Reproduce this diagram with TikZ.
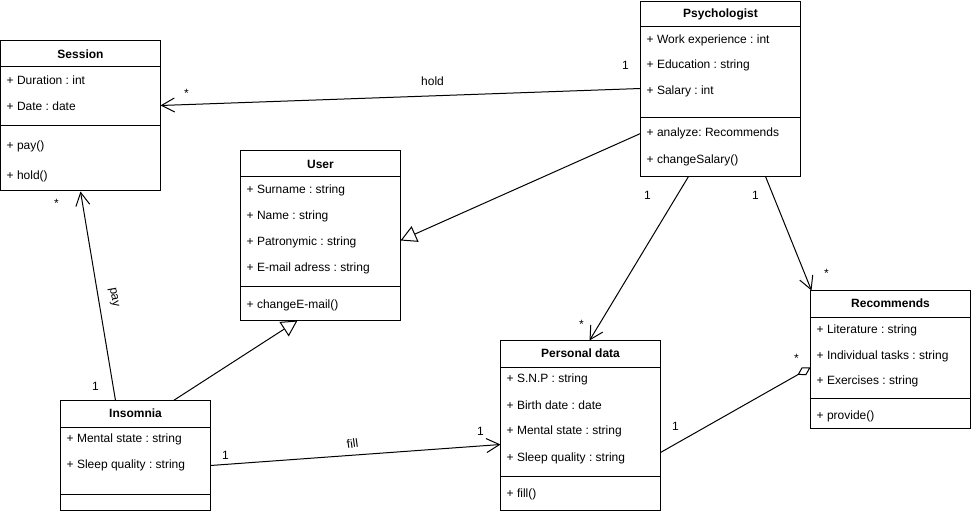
\documentclass[tikz,border=0pt]{standalone}
\usepackage{fontspec}
\setmainfont{Liberation Sans}
\frenchspacing
\usetikzlibrary{arrows.meta,calc}
\begin{document}
\begin{tikzpicture}[x=1pt,y=-1pt,
  box/.style={draw, line width=1pt, inner sep=0pt, outer sep=0pt, anchor=north west},
  ttl/.style={font=\bfseries\fontsize{12}{14}\selectfont, inner sep=0pt},
  attr/.style={font=\fontsize{12}{14}\selectfont, anchor=west, inner sep=0pt},
  lbl/.style={font=\fontsize{12}{14}\selectfont, inner sep=0pt},
  sepline/.style={line width=1pt},
  assoc/.style={line width=1pt, -{Straight Barb[length=13pt,width=14pt]}},
  gen/.style={line width=1pt, -{Triangle[open,length=16pt,width=17pt,fill=white]}},
  agg/.style={line width=1pt, -{Diamond[open,length=15pt,width=9pt,fill=white]}},
]
\useasboundingbox (0,0) rectangle (971,511);
\begin{scope}[shift={(0.5,0.5)}]
% Session
\node[box, minimum width=160pt, minimum height=150pt] (session) at (0,40) {};
\node[ttl] (sessionT) at (80,54) {Session};
\draw[sepline] (0,66) -- (160,66);
\draw[sepline] (0,125) -- (160,125);
\node[attr] (sessionA1) at (6,80) {+ Duration : int};
\node[attr] (sessionA2) at (6,106) {+ Date : date};
\node[attr] (sessionM1) at (6,146) {+ pay()};
\node[attr] (sessionM2) at (6,176) {+ hold()};

% User
\node[box, minimum width=160pt, minimum height=170pt] (user) at (240,150) {};
\node[ttl] (userT) at (320,163.5) {User};
\draw[sepline] (240,176) -- (400,176);
\draw[sepline] (240,286) -- (400,286);
\node[attr] (userA1) at (246,190) {+ Surname : string};
\node[attr] (userA2) at (246,216) {+ Name : string};
\node[attr] (userA3) at (246,242) {+ Patronymic : string};
\node[attr] (userA4) at (246,268) {+ E-mail adress : string};
\node[attr] (userM1) at (246,305) {+ changeE-mail()};

% Psychologist
\node[box, minimum width=160pt, minimum height=175pt] (psy) at (640,1) {};
\node[ttl] (psyT) at (720,14) {Psychologist};
\draw[sepline] (640,26) -- (800,26);
\draw[sepline] (640,117) -- (800,117);
\node[attr] (psyA1) at (646,40) {+ Work experience : int};
\node[attr] (psyA2) at (646,65) {+ Education : string};
\node[attr] (psyA3) at (646,91) {+ Salary : int};
\node[attr] (psyM1) at (646,133) {+ analyze: Recommends};
\node[attr] (psyM2) at (646,160) {+ changeSalary()};

% Recommends
\node[box, minimum width=160pt, minimum height=138pt] (rec) at (810,290) {};
\node[ttl] (recT) at (890,303) {Recommends};
\draw[sepline] (810,317) -- (970,317);
\draw[sepline] (810,398) -- (970,398);
\node[attr] (recA1) at (816,330) {+ Literature : string};
\node[attr] (recA2) at (816,356) {+ Individual tasks : string};
\node[attr] (recA3) at (816,381) {+ Exercises : string};
\node[attr] (recM1) at (816,416) {+ provide()};

% Personal data
\node[box, minimum width=160pt, minimum height=170pt] (pd) at (500,340) {};
\node[ttl] (pdT) at (580,353) {Personal data};
\draw[sepline] (500,367) -- (660,367);
\draw[sepline] (500,476) -- (660,476);
\node[attr] (pdA1) at (506,379) {+ S.N.P : string};
\node[attr] (pdA2) at (506,405) {+ Birth date : date};
\node[attr] (pdA3) at (506,431) {+ Mental state : string};
\node[attr] (pdA4) at (506,458) {+ Sleep quality : string};
\node[attr] (pdM1) at (506,494) {+ fill()};

% Insomnia
\node[box, minimum width=150pt, minimum height=110pt] (ins) at (60,400) {};
\node[ttl] (insT) at (135,413) {Insomnia};
\draw[sepline] (60,427) -- (210,427);
\draw[sepline] (60,494) -- (210,494);
\node[attr] (insA1) at (66,439) {+ Mental state : string};
\node[attr] (insA2) at (66,465) {+ Sleep quality : string};

% Connectors
\draw[assoc] ($(psy.north west)+(0,87)$) -- ($(session.north east)+(0,65)$);
\draw[gen] ($(psy.north west)+(0,132)$) -- ($(user.north east)+(0,90)$);
\draw[gen] ($(ins.north west)+(113,0)$) -- ($(user.south west)+(57,0)$);
\draw[assoc] ($(psy.south west)+(48,0)$) -- ($(pd.north west)+(89,0)$);
\draw[assoc] ($(psy.south west)+(125,0)$) -- ($(rec.north west)+(1,0)$);
\draw[assoc] ($(ins.north west)+(55,0)$) -- ($(session.south west)+(80,1)$);
\draw[assoc] ($(ins.north east)+(0,65)$) -- ($(pd.north west)+(0,104)$);
\draw[agg] ($(pd.north east)+(0,112)$) -- ($(rec.north west)+(0,77)$);

% Labels
\node[lbl] (lHold) at (432,81) {hold};
\node[lbl] (lHold1) at (625,65) {1};
\node[lbl] (lHoldS) at (186,93) {*};
\node[lbl] (lPd1) at (647,195) {1};
\node[lbl] (lPdS) at (581,324) {*};
\node[lbl] (lRec1) at (755,195) {1};
\node[lbl] (lRecS) at (826,273) {*};
\node[lbl, rotate=-80] (lPay) at (113,297) {pay};
\node[lbl] (lPayS) at (56,203) {*};
\node[lbl] (lPay1) at (95,386) {1};
\node[lbl, rotate=8] (lFill) at (352,443) {fill};
\node[lbl] (lFill1) at (225,455) {1};
\node[lbl] (lFill2) at (480,431) {1};
\node[lbl] (lAgg1) at (675,426) {1};
\node[lbl] (lAggS) at (796,358) {*};
\end{scope}
\end{tikzpicture}
\end{document}
